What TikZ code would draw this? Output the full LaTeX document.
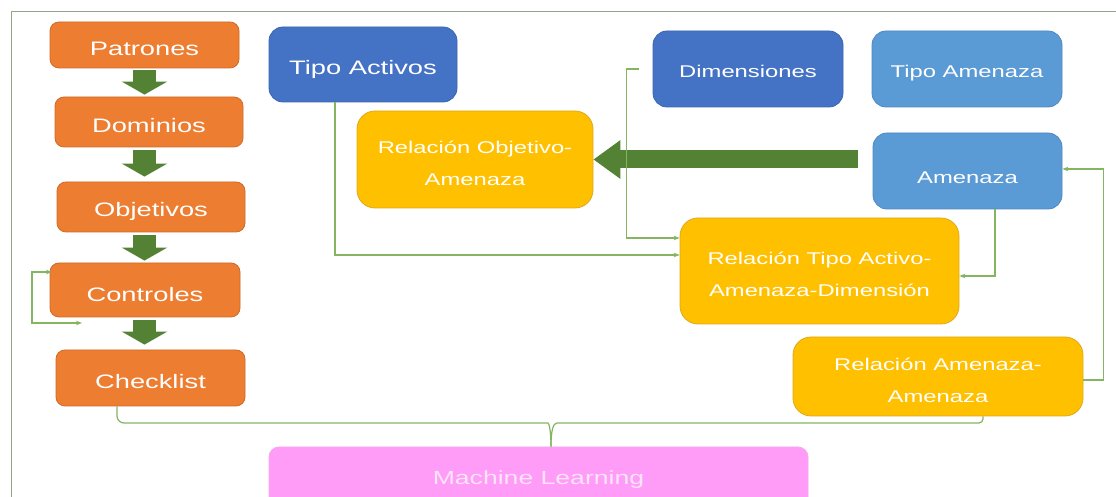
\documentclass[tikz,border=0pt]{standalone}
\usepackage{fontspec}
\setmainfont[FakeStretch=1.4]{Liberation Sans}
\usetikzlibrary{arrows.meta,calc}
\definecolor{cOrange}{HTML}{ED7D31}
\definecolor{cOrangeB}{HTML}{D26A26}
\definecolor{cBlueD}{HTML}{4472C4}
\definecolor{cBlueDB}{HTML}{3B65B2}
\definecolor{cBlueL}{HTML}{5B9BD5}
\definecolor{cBlueLB}{HTML}{5089C2}
\definecolor{cGold}{HTML}{FFC000}
\definecolor{cGoldB}{HTML}{DDA81A}
\definecolor{cPink}{HTML}{FF9CF8}
\definecolor{cPinkB}{HTML}{F5A8EE}
\definecolor{cPinkT}{HTML}{FDE4FB}
\definecolor{cGreenD}{HTML}{548235}
\definecolor{cGreenL}{HTML}{86B562}
\definecolor{cFrame}{HTML}{8FA68A}
% text lowered by #1, extents kept (so the box stays centred on the unshifted text)
\newcommand\lowtx[2]{\raisebox{-#1}[\height][\depth]{\begin{tabular}{@{}c@{}}#2\end{tabular}}}
\tikzset{
  box/.style={draw, line width=0.8pt, text=white, inner sep=0pt},
  bigtxt/.style={font=\fontsize{19.5}{35.1}\selectfont},
  medtxt/.style={font=\fontsize{17}{31.2}\selectfont},
  obox/.style={box, fill=cOrange, draw=cOrangeB, rounded corners=9pt, bigtxt},
  bdbox/.style={box, fill=cBlueD, draw=cBlueDB, rounded corners=14pt},
  blbox/.style={box, fill=cBlueL, draw=cBlueLB, rounded corners=14pt, medtxt},
  gbox/.style={box, fill=cGold, draw=cGoldB, rounded corners=18pt,
    font=\fontsize{17}{31.7}\selectfont},
  pbox/.style={box, fill=cPink, draw=cPinkB, rounded corners=10pt, text=cPinkT,
    font=\fontsize{19}{34.2}\selectfont},
  sz/.style 2 args={minimum width=#1pt, minimum height=#2pt},
  bigdown/.style={draw=cGreenD, line width=23pt, line cap=butt,
    -{Triangle[length=13pt 0 1, width=45pt 0 1, fill=cGreenD]}},
  bigleft/.style={draw=cGreenD, line width=18pt, line cap=butt,
    -{Triangle[length=27pt 0 1, width=37pt 0 1, fill=cGreenD]}},
  conn/.style={draw=cGreenL, line width=1.2pt},
  tipc/.style={-{Stealth[length=6pt, width=4.5pt]}},
  frameline/.style={draw=cFrame, line width=1pt}
}
\begin{document}
\begin{tikzpicture}[x=1pt,y=1pt]
\useasboundingbox (0,0) rectangle (1116,497);
\fill[white] (0,0) rectangle (1116,497);
\draw[frameline] (11,-10) -- (11,485) -- (1130,485);

% left column
\node[obox, sz={189}{46}] (pat) at (144.5,452) {\lowtx{3.5pt}{Patrones}};
\node[obox, sz={188}{50}] (dom) at (149,375) {\lowtx{3.5pt}{Dominios}};
\node[obox, sz={188}{50}] (obj) at (151,290) {\lowtx{2pt}{Objetivos}};
\node[obox, sz={190}{54}] (con) at (145,207) {\lowtx{4pt}{Controles}};
\node[obox, sz={189}{56}] (chk) at (150.5,119) {\lowtx{3pt}{Checklist}};

% blue boxes
\node[bdbox, sz={188}{75}, bigtxt] (tact) at (363,432.5) {\lowtx{3.3pt}{Tipo Activos}};
\node[bdbox, sz={190}{76}, medtxt] (dim) at (748,428) {\lowtx{2.7pt}{Dimensiones}};
\node[blbox, sz={190}{76}] (tam) at (967,428) {\lowtx{2.7pt}{Tipo Amenaza}};
\node[blbox, sz={189}{76}] (amen) at (967.5,326) {\lowtx{6pt}{Amenaza}};

% gold boxes
\node[gbox, sz={236}{97}] (roa) at (475,337.5) {\lowtx{4pt}{Relación Objetivo-\\Amenaza}};
\node[gbox, sz={279}{106}] (rtaad) at (819.5,226) {\lowtx{3pt}{Relación Tipo Activo-\\Amenaza-Dimensión}};
\node[gbox, sz={290}{79}] (raa) at (938,120.5) {\lowtx{4pt}{Relación Amenaza-\\Amenaza}};

% machine learning
\node[pbox, sz={539}{62}] (ml) at (538.5,19) {\lowtx{0pt}{Machine Learning}};

% big green arrows
\draw[bigdown] ([yshift=-2pt]pat.south) -- ([yshift=2pt]pat.south |- dom.north);
\draw[bigdown] ([yshift=-3pt]pat.south |- dom.south) -- ([yshift=5pt]pat.south |- obj.north);
\draw[bigdown] ([yshift=-3pt]pat.south |- obj.south) -- ([yshift=2pt]pat.south |- con.north);
\draw[bigdown] ([yshift=-3pt]pat.south |- con.south) -- ([yshift=5pt]pat.south |- chk.north);
\draw[bigleft] ([xshift=-15pt]amen.west |- roa.east) -- (roa.east);

% thin connectors
\coordinate (loopA) at (82,174);
\coordinate (loopB) at (52,225);
\draw[conn, {Stealth[length=6pt, width=4.5pt]}-{Stealth[length=6pt, width=4.5pt]}]
  (loopA) -- (32,174) -- (32,225) -- (loopB);

\draw[conn, tipc] ([xshift=-28pt]tact.south) |- ([yshift=16pt]rtaad.west);

\coordinate (dimst) at ([xshift=-14pt]dim.west);
\draw[conn, tipc] (dimst) -- ++(-12,0) |- ([yshift=33pt]rtaad.west);

\draw[conn, tipc] ([xshift=27.5pt]amen.south) |- ([yshift=-5pt]rtaad.east);

\draw[conn, tipc] ([yshift=-3.5pt]raa.east) -- ++(20,0) |- ([yshift=2pt]amen.east);

\coordinate (mlj) at ([xshift=12.5pt]ml.north);
\draw[conn, rounded corners=7pt] ([xshift=-33.5pt]chk.south) |- (541,74)
  .. controls (549,74) and (551,66) .. (mlj);
\draw[conn, rounded corners=4pt] ([xshift=45pt]raa.south) |- (561,74)
  .. controls (553,74) and (551,66) .. (mlj);
\end{tikzpicture}
\end{document}
